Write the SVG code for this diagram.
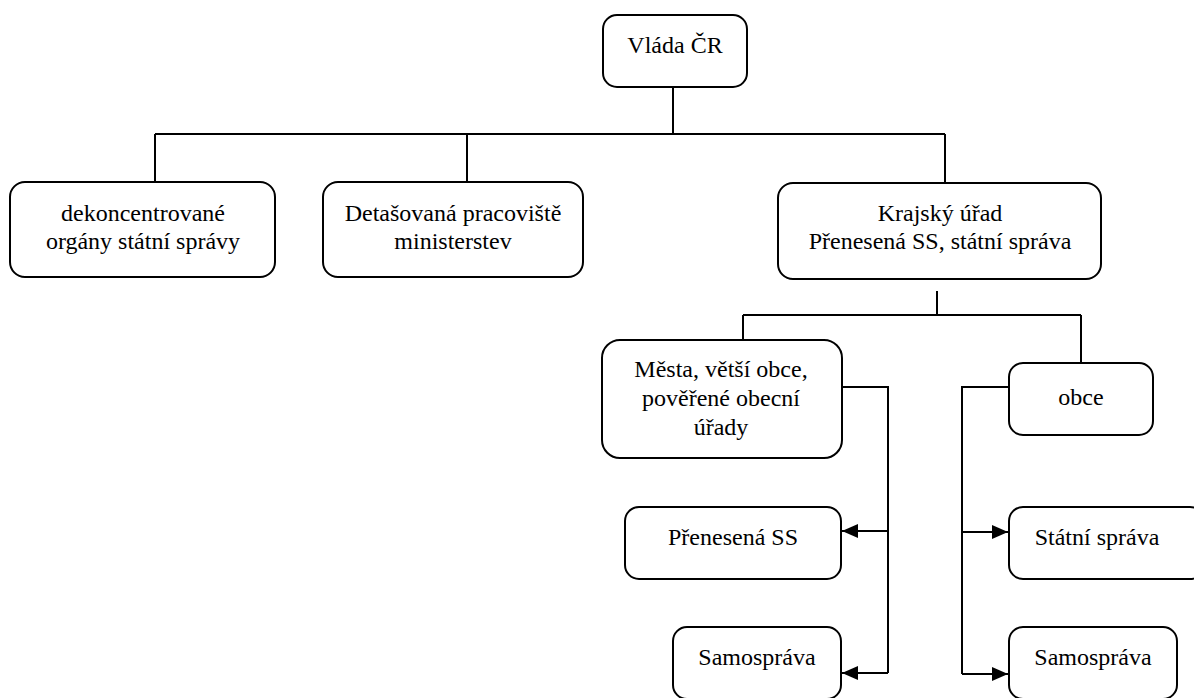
<svg xmlns="http://www.w3.org/2000/svg" width="1194" height="698" viewBox="0 0 1194 698">
  <style>
    .box { fill: #fff; stroke: #000; stroke-width: 2; }
    .lbl { font-family: "Liberation Serif", "DejaVu Serif", serif; font-size: 24px; fill: #000; text-anchor: middle; }
    .wire { fill: none; stroke: #000; stroke-width: 2; }
  </style>
  <defs>
    <marker id="arrow" viewBox="0 0 16 14" refX="16" refY="7" markerWidth="16" markerHeight="14" markerUnits="userSpaceOnUse" orient="auto">
      <path d="M0,0 L16,7 L0,14 Z" fill="#000"/>
    </marker>
  </defs>

  <rect x="0" y="0" width="1194" height="698" fill="#fff"/>

  <!-- connectors -->
  <g id="connectors">
    <path class="wire" d="M673,87 V134"/>
    <path class="wire" d="M155,134 H945"/>
    <path class="wire" d="M155,134 V182"/>
    <path class="wire" d="M467,134 V182"/>
    <path class="wire" d="M945,134 V182"/>
    <path class="wire" d="M937,291 V315"/>
    <path class="wire" d="M743,315 H1081"/>
    <path class="wire" d="M743,315 V340"/>
    <path class="wire" d="M1081,315 V363"/>
    <path class="wire" d="M842,387 H888 V673"/>
    <path class="wire" d="M888,531 H842" marker-end="url(#arrow)"/>
    <path class="wire" d="M888,673 H842" marker-end="url(#arrow)"/>
    <path class="wire" d="M1009,387 H962 V674"/>
    <path class="wire" d="M962,532 H1008" marker-end="url(#arrow)"/>
    <path class="wire" d="M962,674 H1008" marker-end="url(#arrow)"/>
  </g>

  <g id="vlada">
    <rect class="box" x="603" y="15" width="144" height="72" rx="14"/>
    <text class="lbl" x="675" y="53">Vláda ČR</text>
  </g>

  <g id="dekoncentrovane">
    <rect class="box" x="10" y="182" width="265" height="95" rx="15"/>
    <text class="lbl" x="143" y="221">dekoncentrované</text>
    <text class="lbl" x="143" y="249">orgány státní správy</text>
  </g>

  <g id="detasovana">
    <rect class="box" x="323" y="182" width="260" height="95" rx="15"/>
    <text class="lbl" x="453" y="221">Detašovaná pracoviště</text>
    <text class="lbl" x="453" y="249">ministerstev</text>
  </g>

  <g id="krajsky">
    <rect class="box" x="778" y="183" width="323" height="96" rx="15"/>
    <text class="lbl" x="940" y="221">Krajský úřad</text>
    <text class="lbl" x="940" y="249">Přenesená SS, státní správa</text>
  </g>

  <g id="mesta">
    <rect class="box" x="602" y="340" width="240" height="118" rx="18"/>
    <text class="lbl" x="721" y="377">Města, větší obce,</text>
    <text class="lbl" x="721" y="406">pověřené obecní</text>
    <text class="lbl" x="721" y="435">úřady</text>
  </g>

  <g id="obce">
    <rect class="box" x="1009" y="363" width="144" height="72" rx="14"/>
    <text class="lbl" x="1081" y="405">obce</text>
  </g>

  <g id="prenesena">
    <rect class="box" x="625" y="507" width="216" height="72" rx="14"/>
    <text class="lbl" x="733" y="545">Přenesená SS</text>
  </g>

  <g id="samosprava-mesta">
    <rect class="box" x="673" y="627" width="168" height="72" rx="14"/>
    <text class="lbl" x="757" y="665">Samospráva</text>
  </g>

  <g id="statni-sprava">
    <rect class="box" x="1009" y="507" width="195" height="72" rx="14"/>
    <text class="lbl" x="1097" y="545">Státní správa</text>
  </g>

  <g id="samosprava-obce">
    <rect class="box" x="1009" y="627" width="168" height="72" rx="14"/>
    <text class="lbl" x="1093" y="665">Samospráva</text>
  </g>
</svg>
